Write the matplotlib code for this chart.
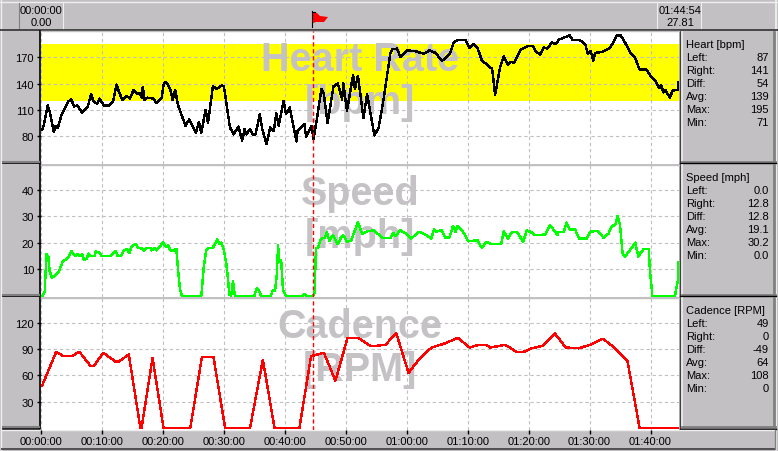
"""Three-panel ride chart: heart rate, speed and cadence against elapsed time."""
import matplotlib
matplotlib.use("Agg")
import matplotlib.pyplot as plt
from matplotlib.patches import Polygon

W, H = 778, 452
GRAY = "#c3c0c3"
DARK = "#808080"
LIGHT = "#eeeeee"
WATERMARK = "#c4c2c4"
FONT = ["Liberation Sans", "DejaVu Sans"]

# ── data, time in minutes ────────────────────────────────────────────────
hr_t = [0.2, 0.5, 1.1, 1.4, 2.1, 2.4, 2.8, 2.9, 3.4, 4.0, 4.5, 5.0, 5.4, 6.0, 6.7, 7.7, 8.2, 8.6, 9.2, 9.6,
        10.3, 11.1, 11.8, 12.4, 12.8, 13.4, 14.0, 14.6, 15.2, 15.8, 16.2, 16.5, 16.7, 17.0, 17.4, 18.4, 18.9, 19.8,
        20.1, 20.5, 21.2, 21.6, 22.0, 22.5, 23.7, 24.3, 25.4, 25.9, 26.3, 27.0, 27.4, 28.2, 28.8, 29.7, 30.0,
        31.0, 31.6, 32.4, 33.0, 33.4, 33.7, 34.3, 34.7, 35.2, 35.9, 36.3, 37.0, 37.6, 38.2, 38.6, 39.0, 39.8,
        40.2, 40.8, 41.9, 42.1, 43.2, 43.5, 44.4, 44.7, 45.2, 46.0, 46.4, 47.0, 48.0, 48.7, 49.4, 49.6,
        50.2, 51.2, 51.5, 52.0, 52.9, 53.5, 54.7, 55.4, 56.2, 57.3, 57.6, 58.4, 59.0,
        60.0, 61.4, 62.8, 63.8, 64.7, 65.8, 67.1, 67.7, 68.5, 69.6, 70.3, 70.9, 71.6, 72.3, 73.7, 74.0, 74.5,
        75.3, 75.9, 76.6, 77.0, 77.6, 78.7, 80.0, 80.7, 81.1, 81.9, 82.5, 83.1, 83.8, 84.5, 84.9, 86.7, 87.2,
        88.3, 89.3, 89.7, 90.2, 90.6, 90.9, 92.0, 93.4, 94.5, 95.1, 95.8, 96.7, 97.5, 98.2, 99.3,
        100.0, 100.7, 101.4, 101.8, 102.1, 102.4, 103.2, 103.6, 104.5, 104.6]
hr_v = [87, 94, 115, 109, 85, 92, 89, 93, 105, 113, 120, 122, 114, 115, 107, 114, 128, 120, 117, 123,
        115, 115, 119, 139, 130, 121, 126, 123, 133, 128, 129, 124, 136, 121, 124, 123, 118, 124,
        139, 142, 134, 121, 133, 115, 92, 99, 84, 96, 84, 110, 95, 137, 134, 138, 137,
        90, 82, 91, 75, 88, 82, 88, 82, 82, 105, 88, 71, 90, 86, 106, 92, 120,
        105, 113, 74, 86, 94, 79, 92, 77, 97, 134, 128, 95, 137, 140, 122, 140,
        109, 150, 134, 149, 101, 128, 81, 90, 122, 174, 179, 180, 170,
        178, 177, 174, 178, 175, 166, 174, 187, 190, 190, 181, 185, 181, 167, 158, 158, 127,
        158, 171, 161, 165, 164, 179, 183, 183, 177, 173, 181, 180, 187, 185, 190, 195, 190,
        190, 185, 174, 177, 166, 175, 176, 181, 195, 195, 187, 175, 169, 156, 156,
        149, 144, 135, 138, 130, 133, 124, 132, 133, 141]

speed_t = [0.2, 0.6, 0.9, 1.2, 1.4, 1.8, 2.9, 3.6, 4.3, 5.0, 5.6, 6.0, 6.4, 6.8, 7.0, 7.5, 7.8, 8.2, 8.8, 9.0, 9.6,
           10.0, 11.3, 12.2, 12.6, 13.1, 13.6, 14.1, 14.5, 14.8, 15.5, 16.0, 16.6, 16.9, 17.4, 17.9, 18.2, 18.6, 19.0,
           20.0, 20.5, 20.9, 21.2, 21.8, 22.2, 22.5, 22.8, 23.1, 26.3, 26.7, 27.1, 27.5, 28.2, 28.9, 29.3, 29.6,
           30.0, 30.4, 30.7, 30.9, 31.2, 31.5, 31.8, 35.0, 35.4, 35.7, 36.1, 37.7, 38.0, 38.4, 38.7, 38.9, 39.1, 39.4, 39.7,
           40.2, 43.0, 43.2, 43.5, 44.6, 44.9, 45.1, 45.5, 45.9, 46.6, 46.9, 47.3, 47.9, 48.7, 49.2, 49.6,
           50.2, 50.9, 51.3, 52.0, 52.7, 53.4, 54.6, 55.7, 56.2, 57.3, 57.8, 58.2, 58.9, 59.9,
           60.7, 62.0, 63.0, 64.0, 64.5, 64.8, 65.7, 66.3, 67.0, 67.6, 68.0, 68.3, 69.2,
           70.1, 71.6, 72.3, 73.1, 73.7, 75.5, 75.9, 76.6, 77.3, 78.1, 79.1, 79.7,
           80.5, 81.1, 82.7, 83.5, 84.4, 84.7, 84.9, 85.8, 86.2, 86.8, 87.6, 88.3, 89.5,
           90.1, 91.2, 92.3, 93.1, 93.7, 94.2, 94.6, 95.0, 95.4, 95.8, 96.4, 97.5, 98.0, 98.9, 99.7, 99.9,
           100.3, 104.0, 104.5, 104.6]
speed_v = [0, 1.4, 15.7, 14.7, 9.6, 6.8, 9, 13.2, 14, 16.8, 15, 15.7, 15, 15.7, 13.7, 13.9, 16, 15, 15, 16.8, 16.3,
           15, 15, 17, 15, 15, 17.2, 17.6, 16.2, 18.5, 19.5, 18.2, 17.8, 17.2, 18.2, 18.1, 17.2, 18.2, 17.2,
           20.2, 18.5, 19.1, 17.2, 17.2, 17.8, 9.6, 2.7, 0, 0, 10.9, 17.2, 18.2, 18.2, 21.3, 19.5, 20.1,
           17.2, 12.2, 5.8, 0.5, 0, 5.6, 0, 0, 3, 2.3, 0, 0, 2, 2, 8.4, 19.1, 12.8, 13.4, 2.3,
           0, 0, 0.8, 0, 0, 1.4, 17.8, 18.5, 21.5, 22, 24.2, 20.8, 22.9, 19.5, 22, 22.9,
           20.4, 21, 23.5, 27.8, 23.3, 24.3, 24.8, 22.5, 21.8, 21.8, 23.8, 22.5, 24.8, 23.5,
           21.6, 24.2, 23.3, 21.6, 25.2, 24.2, 24.8, 22, 22, 26.5, 24.2, 26.5, 24.4,
           20.6, 21, 18.2, 20.4, 19.7, 19.7, 24.4, 21.6, 24.2, 24.2, 20.4, 24.8,
           23.9, 22.9, 23.2, 26.6, 24.2, 22.9, 24.2, 24.2, 27.7, 25, 25.2, 21.6, 21.6,
           24.2, 24.6, 22, 23.5, 26.5, 26.7, 30.1, 26.7, 16.2, 14.7, 16.6, 20.1, 14.9, 17.8, 17.8, 9.6,
           0, 0, 5.8, 12.8]

cadence_t = [0.2, 2.5, 3.7, 5.0, 6.3, 8.1, 8.7, 10.2, 12.2, 12.8, 14.4, 16.3, 16.5, 18.3, 20.1, 24.5, 26.4, 28.3,
             30.2, 34.3, 36.4, 38.3, 42.4, 44.3, 46.4, 48.3, 50.3, 52.1, 54.0, 55.1, 56.5, 57.3, 58.3,
             60.3, 62.2, 64.1, 66.0, 68.4, 70.3, 71.8, 73.1, 73.7, 76.2, 78.0, 79.2,
             80.5, 82.4, 84.3, 86.1, 88.2, 90.1, 92.2, 94.2, 96.2, 98.2, 104.6]
cadence_v = [48.5, 87, 82, 82, 87, 71, 71, 86, 76, 76, 84, 0, 0, 80, 0, 0, 81, 81,
             0, 0, 78, 0, 0, 82, 86, 54, 103, 103, 94, 94, 95, 101, 108,
             63, 80, 92, 96, 103, 92, 95, 95, 92, 95, 87, 87,
             91, 94, 108, 92, 91, 95, 102, 91, 77, 0, 0]

time_ticks = [0, 10, 20, 30, 40, 50, 60, 70, 80, 90, 100]
time_labels = ["00:00:00", "00:10:00", "00:20:00", "00:30:00", "00:40:00", "00:50:00",
               "01:00:00", "01:10:00", "01:20:00", "01:30:00", "01:40:00"]
cursor_t = 44.56

hr_ticks = [80, 110, 140, 170]
speed_ticks = [10, 20, 30, 40]
cadence_ticks = [30, 60, 90, 120]
hr_zone = (120, 185)

start_labels = ["00:00:00", "0.00"]
end_labels = ["01:44:54", "27.81"]
hr_stats = ["87", "141", "54", "139", "195", "71"]
speed_stats = ["0.0", "12.8", "12.8", "19.1", "30.2", "0.0"]
cadence_stats = ["49", "0", "-49", "64", "108", "0"]
stat_names = ["Left:", "Right:", "Diff:", "Avg:", "Max:", "Min:"]

plt.rcParams.update({"font.family": FONT, "font.size": 8})


def px_axes(fig, x0, y0, x1, y1):
    """Axes placed by pixel box, y measured from the top of the image."""
    return fig.add_axes([x0 / W, 1 - y1 / H, (x1 - x0) / W, (y1 - y0) / H])


fig = plt.figure(figsize=(W / 100, H / 100), dpi=100, facecolor=GRAY)

# ── window chrome, in pixel coordinates ──────────────────────────────────
bg = fig.add_axes([0, 0, 1, 1])
bg.set_xlim(0, W)
bg.set_ylim(H, 0)
bg.axis("off")
bg.plot([0, W], [2.5, 2.5], color=LIGHT, lw=1)
bg.plot([776.5, 776.5], [0, H], color=LIGHT, lw=1.4)
bg.plot([1.5, 1.5], [0, H], color=LIGHT, lw=1)
bg.plot([0, W], [30.5, 30.5], color="#303030", lw=1.2)
bg.plot([19.5, 19.5], [4, 29], color=DARK, lw=0.8)
bg.plot([63.5, 63.5], [4, 29], color=LIGHT, lw=0.8)
bg.plot([657.5, 657.5], [4, 29], color=LIGHT, lw=0.8)
bg.plot([701.5, 701.5], [4, 29], color=LIGHT, lw=0.8)
for top, bottom in [(33, 162.5), (166, 295.5), (299, 428)]:
    bg.plot([3, 40.5, 40.5], [bottom + 1.5, bottom + 1.5, top - 1], color="black", lw=1.2)
    bg.plot([3, 39], [bottom, bottom], color=DARK, lw=1.5)
    bg.plot([680.5, 680.5], [top - 1, bottom + 2], color="#404040", lw=1)
    bg.plot([682, 682], [top, bottom], color=LIGHT, lw=1.2)
    bg.plot([682, 775], [bottom, bottom], color=DARK, lw=2)
    bg.plot([774.5, 774.5], [top, bottom], color=DARK, lw=2)
    bg.plot([680, 776], [bottom + 1.5, bottom + 1.5], color="black", lw=1)
bg.plot([2, 775], [430.5, 430.5], color=LIGHT, lw=1)
bg.plot([2, 775], [449.8, 449.8], color="#505050", lw=1.4)
bg.plot([774.8, 774.8], [431, 450], color=DARK, lw=1)

# start and end readouts
for x, labels in [(41.5, start_labels), (680, end_labels)]:
    bg.text(x, 10.5, labels[0], ha="center", va="center", color="black")
    bg.text(x, 23.5, labels[1], ha="center", va="center", color="black")

# flag at the cursor
bg.plot([312.5, 312.5], [12, 28], color="black", lw=0.8)
bg.plot([312.5, 315], [12.5, 12.5], color="black", lw=0.8)
bg.add_patch(Polygon([(313, 14), (317, 14), (320, 17), (328, 18), (324, 23), (316, 23), (313, 24)],
                     closed=True, fc="#ff0000", ec="none"))

# stats boxes
boxes = [("Heart [bpm]", hr_stats, 44.7), ("Speed [mph]", speed_stats, 177.7), ("Cadence [RPM]", cadence_stats, 310.7)]
for title, stats, y in boxes:
    bg.text(686, y, title, ha="left", va="center", color="black")
    for i, (name, val) in enumerate(zip(stat_names, stats)):
        row = y + 13 * (i + 1)
        bg.text(686, row, name, ha="left", va="center", color="black")
        bg.text(769, row, val, ha="right", va="center", color="black")

# ── data panels ──────────────────────────────────────────────────────────
panels = [
    ((32, 165), (48.3, 200), hr_t, hr_v, "black", hr_ticks, "Heart Rate\n[bpm]"),
    ((166, 298), (-0.4, 49.4), speed_t, speed_v, "#00ff00", speed_ticks, "Speed\n[mph]"),
    ((299, 431), (-2.6, 148.7), cadence_t, cadence_v, "#ff0000", cadence_ticks, "Cadence\n[RPM]"),
]
for i, ((top, bottom), ylim, xs, ys, color, yticks, name) in enumerate(panels):
    ax = px_axes(fig, 41, top, 679, bottom)
    ax.set_xlim(0.08, 104.67)
    ax.set_ylim(*ylim)
    ax.set_axisbelow(True)
    if i == 0:
        ax.axhspan(*hr_zone, color="#ffff00", lw=0, zorder=0)
    ax.grid(True, color="#c0c0c0", ls=(0, (3, 2.5)), lw=0.8, zorder=1)
    ax.text(0.5, 0.626, name, transform=ax.transAxes, ha="center", va="center",
            fontsize=28.5, fontweight="bold", color=WATERMARK, linespacing=1.15, zorder=2)
    ax.plot(xs, ys, color=color, lw=1.0, antialiased=False, zorder=3)
    ax.plot([cursor_t, cursor_t], [0, 1], transform=ax.get_xaxis_transform(), color="#ff0000",
            ls=(0, (3, 2)), lw=1.0, dash_capstyle="butt", zorder=6)
    ax.set_yticks(yticks)
    ax.set_xticks(time_ticks)
    ax.tick_params(axis="y", length=3, width=1, pad=2, labelsize=8, color="black")
    if i == 2:
        ax.set_xticklabels(time_labels)
        ax.tick_params(axis="x", length=3, width=1, pad=1.5, labelsize=8, color="black")
    else:
        ax.tick_params(axis="x", length=0, labelbottom=False)
    for s in ax.spines.values():
        s.set_visible(False)
    ax.plot([0, 1], [1, 1], transform=ax.transAxes, color="#c0c0c0", lw=1, clip_on=False)

fig.savefig("out.png", dpi=100, facecolor=GRAY)
